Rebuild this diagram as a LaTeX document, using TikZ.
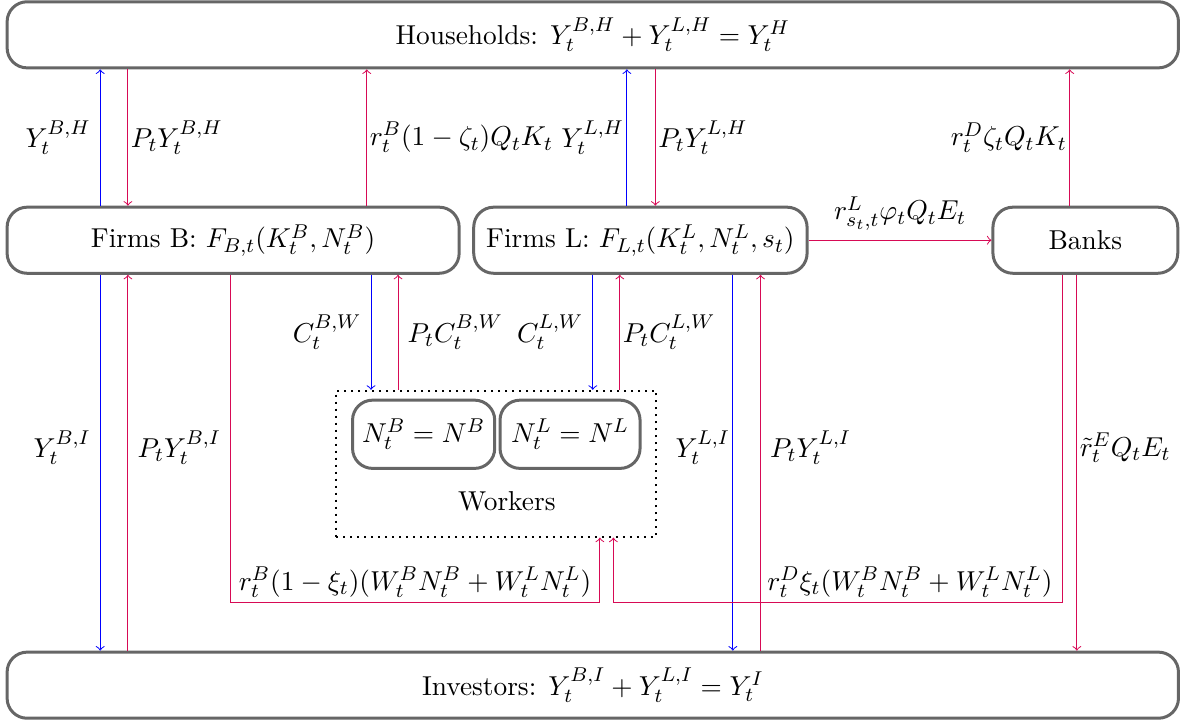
\documentclass[11pt,tikz,border=0pt]{standalone}
\usepackage{amsmath,amssymb}
\usepackage{xcolor}
\usepackage{tikz}
\usetikzlibrary{positioning,fit,calc,backgrounds}

\definecolor{flowred}{RGB}{215,10,85}

\begin{document}
\begin{tikzpicture}[
        >=to,
        % sectors: rounded grey boxes
        sector_node/.style={draw=black!60, very thick, rounded corners=8pt, minimum height=0.93cm, align=center},
        labour_node/.style={draw=black!60, very thick, rounded corners=8pt, minimum height=0.96cm, minimum width=2.0cm},
        workers_bg/.style={draw=black, dotted, thick},
        real_flow/.style={->, draw=blue},
        money_flow/.style={->, draw=flowred}
    ]

    \useasboundingbox (0,0) rectangle (16.70,-10.20);

    % ==========================================
    % 1. sectors
    % ==========================================
    \node[sector_node, minimum width=16.48cm] (households) at (8.34,-0.49) {Households: $Y_t^{B,H}+Y_t^{L,H}=Y_t^{H}$};

    \node[sector_node, minimum width=6.36cm] (firmsB) at (3.28,-3.38) {Firms B: $F_{B,t}(K_t^B,N_t^B)$};
    \node[sector_node, minimum width=4.69cm] (firmsL) at (9.01,-3.38) {Firms L: $F_{L,t}(K_t^L,N_t^L,s_t)$};
    \node[sector_node, minimum width=2.60cm] (banks) at (15.27,-3.38) {Banks};

    \node[sector_node, minimum width=16.48cm] (investors) at (8.34,-9.64) {Investors: $Y_t^{B,I}+Y_t^{L,I}=Y_t^{I}$};

    % --- workers ---
    \node[labour_node] (laborB) at (5.96,-6.11) {$N_t^B=N^B$};
    \node[labour_node, minimum width=1.97cm] (laborL) at (8.02,-6.11) {$N_t^L=N^L$};
    \node[inner sep=2pt] (workers_lbl) at (7.13,-7.06) {Workers};
    % invisible anchor for the lower edge of the dotted box
    \coordinate (workers_base) at (7.13,-7.44);
    \begin{pgfonlayer}{background}
        \node[workers_bg, fit=(laborB) (laborL) (workers_lbl) (workers_base), inner xsep=0.21cm, inner ysep=0.11cm] (workers) {};
    \end{pgfonlayer}

    % ==========================================
    % 2. columns of the flows
    % ==========================================
    \coordinate (c_bh) at (1.41,0);
    \coordinate (c_pbh) at (1.80,0);
    \coordinate (c_rbk) at (5.16,0);
    \coordinate (c_lh) at (8.82,0);
    \coordinate (c_plh) at (9.22,0);
    \coordinate (c_rdk) at (15.05,0);
    \coordinate (c_rbw) at (3.24,0);
    \coordinate (c_bw) at (5.22,0);
    \coordinate (c_pbw) at (5.60,0);
    \coordinate (c_lw) at (8.34,0);
    \coordinate (c_plw) at (8.72,0);
    \coordinate (c_li) at (10.31,0);
    \coordinate (c_pli) at (10.70,0);
    \coordinate (c_rdw) at (14.95,0);
    \coordinate (c_re) at (15.15,0);
    \coordinate (c_wb) at (8.44,0);
    \coordinate (c_wd) at (8.63,0);
    \coordinate (r_low) at (0,-8.48);

    % --- firms <-> households ---
    \draw[real_flow] (firmsB.north -| c_bh) -- node[left] {$Y_t^{B,H}$} (households.south -| c_bh);
    \draw[money_flow] (households.south -| c_pbh) -- node[right, inner sep=1pt] {$P_tY_t^{B,H}$} (firmsB.north -| c_pbh);
    \draw[money_flow] (firmsB.north -| c_rbk) -- node[right, inner sep=1pt] {$r_t^B(1-\zeta_t)Q_tK_t$} (households.south -| c_rbk);
    \draw[real_flow] (firmsL.north -| c_lh) -- node[left, inner sep=1pt] {$Y_t^{L,H}$} (households.south -| c_lh);
    \draw[money_flow] (households.south -| c_plh) -- node[right, inner sep=1pt] {$P_tY_t^{L,H}$} (firmsL.north -| c_plh);
    \draw[money_flow] (banks.north -| c_rdk) -- node[left, inner sep=1pt] {$r_t^D\zeta_tQ_tK_t$} (households.south -| c_rdk);

    % --- firms L -> banks ---
    \draw[money_flow] (firmsL.east) -- node[above] {$r_{s_t,t}^L\varphi_tQ_tE_t$} (banks.west);

    % --- firms <-> workers ---
    \draw[real_flow] (firmsB.south -| c_bw) -- node[left] {$C_t^{B,W}$} (workers.north -| c_bw);
    \draw[money_flow] (workers.north -| c_pbw) -- node[right] {$P_tC_t^{B,W}$} (firmsB.south -| c_pbw);
    \draw[real_flow] (firmsL.south -| c_lw) -- node[left] {$C_t^{L,W}$} (workers.north -| c_lw);
    \draw[money_flow] (workers.north -| c_plw) -- node[right, inner sep=1pt] {$P_tC_t^{L,W}$} (firmsL.south -| c_plw);

    % --- firms <-> investors ---
    \draw[real_flow] (firmsB.south -| c_bh) -- node[left, pos=0.46] {$Y_t^{B,I}$} (investors.north -| c_bh);
    \draw[money_flow] (investors.north -| c_pbh) -- node[right, pos=0.54] {$P_tY_t^{B,I}$} (firmsB.south -| c_pbh);
    \draw[real_flow] (firmsL.south -| c_li) -- node[left, pos=0.46, inner sep=1pt] {$Y_t^{L,I}$} (investors.north -| c_li);
    \draw[money_flow] (investors.north -| c_pli) -- node[right, pos=0.54] {$P_tY_t^{L,I}$} (firmsL.south -| c_pli);
    \draw[money_flow] (banks.south -| c_re) -- node[right, pos=0.46, inner sep=1pt] {$\tilde{r}_t^EQ_tE_t$} (investors.north -| c_re);

    % --- wages back to workers ---
    \draw[money_flow] (firmsB.south -| c_rbw) |- (r_low -| c_wb) node[pos=0.75, above, inner sep=2pt] {$r_t^B(1-\xi_t)(W_t^BN_t^B+W_t^LN_t^L)$} -- (workers.south -| c_wb);
    \draw[money_flow] (banks.south -| c_rdw) |- (r_low -| c_wd) node[pos=0.67, above, inner sep=2pt] {$r_t^D\xi_t(W_t^BN_t^B+W_t^LN_t^L)$} -- (workers.south -| c_wd);

\end{tikzpicture}
\end{document}
